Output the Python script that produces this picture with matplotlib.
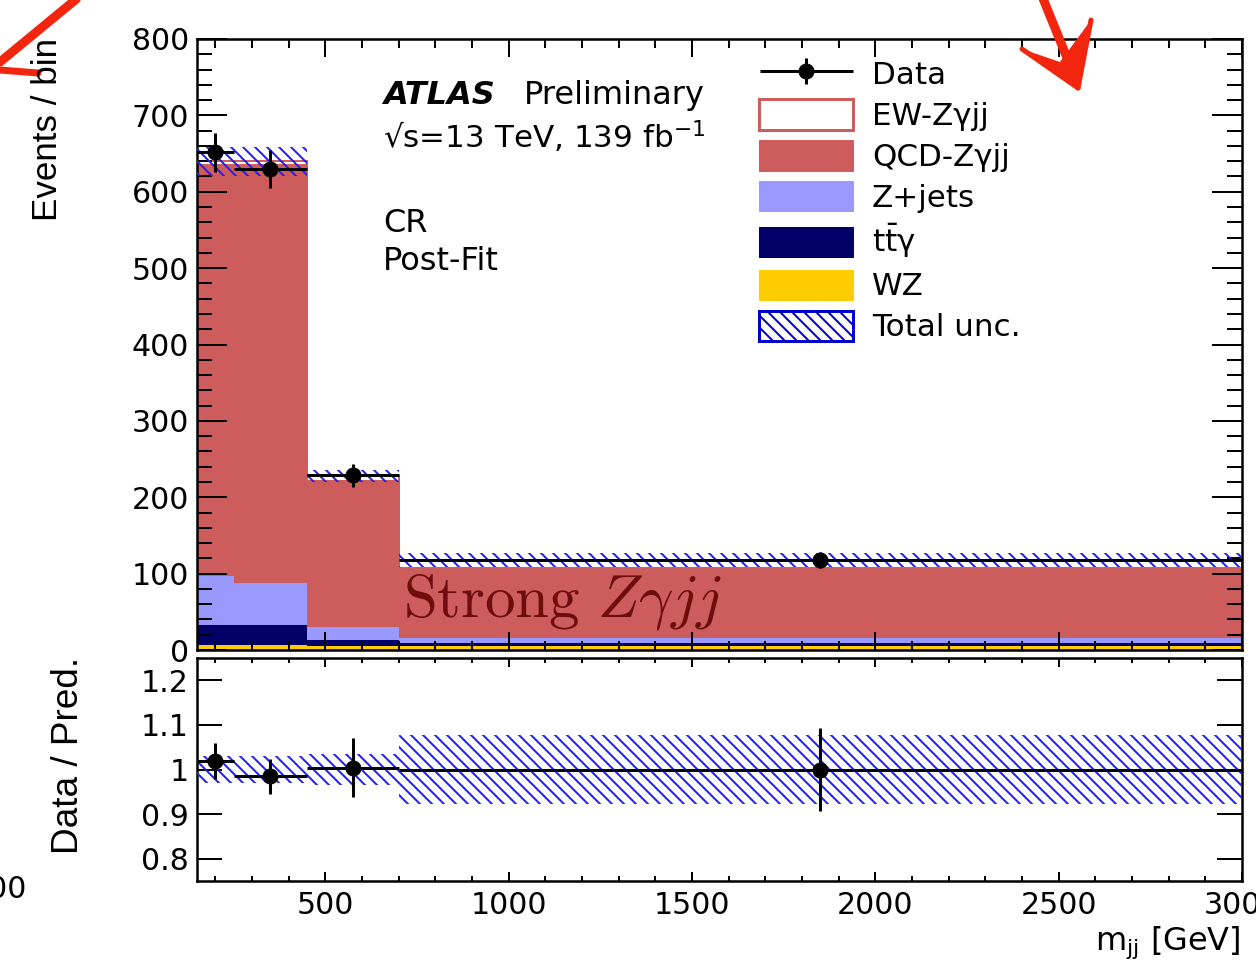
import numpy as np
import matplotlib
matplotlib.use('Agg')
import matplotlib.pyplot as plt
from matplotlib.patches import Patch
from matplotlib.legend_handler import HandlerErrorbar
from matplotlib.container import ErrorbarContainer
from matplotlib.ticker import MultipleLocator, FixedLocator, FuncFormatter

plt.rcParams['font.family'] = ['DejaVu Sans']
plt.rcParams['mathtext.fontset'] = 'dejavusans'
plt.rcParams['hatch.linewidth'] = 2.0

# m_jj bins [GeV] and post-fit yields per bin
edges = [150, 250, 450, 700, 3000]
wz = [7, 6, 5, 5]
ttgamma = [26, 27, 8, 4]
zjets = [64, 55, 17, 7]
qcd = [538, 547, 191, 92]
ew = [5, 5, 7, 10]
tot_unc = [19, 19, 8, 9]
data = [652, 630, 229, 118]

yticks_main = [0, 100, 200, 300, 400, 500, 600, 700, 800]
yticks_ratio = [0.8, 0.9, 1.0, 1.1, 1.2]
xticks = [500, 1000, 1500, 2000, 2500, 3000]

red = '#cd5c5c'
lblue = '#9999ff'
navy = '#000066'
yellow = '#ffcc00'
hblue = '#2020ff'

# work in pixels: dpi 72 so 1pt == 1px
W, H = 1256, 964
fig = plt.figure(figsize=(W / 72, H / 72), dpi=72)

def box(x0, y0, x1, y1):
    return [x0 / W, 1 - y1 / H, (x1 - x0) / W, (y1 - y0) / H]

ax = fig.add_axes(box(197, 39, 1242, 650))
rax = fig.add_axes(box(197, 658, 1242, 881))

edges_a = np.array(edges)
centers = 0.5 * (edges_a[1:] + edges_a[:-1])
halfw = 0.5 * np.diff(edges_a)
cum = np.cumsum([wz, ttgamma, zjets, qcd, ew], axis=0)
total = cum[-1]
unc = np.array(tot_unc)
d = np.array(data)

# stack: EW white box on top of QCD, then lower layers over each other
ax.stairs(total, edges, baseline=cum[3], fill=True, facecolor='white',
          edgecolor=red, linewidth=2)
for i, c in zip([3, 2, 1, 0], [red, lblue, navy, yellow]):
    ax.stairs(cum[i], edges, baseline=0, fill=True, color=c, linewidth=0)

ax.bar(edges_a[:-1], 2 * unc, width=np.diff(edges_a), bottom=total - unc,
       align='edge', fill=False, hatch='\\\\', edgecolor=hblue, linewidth=0, zorder=3)

dat = ax.errorbar(centers, d, xerr=halfw, yerr=np.sqrt(d), fmt='o', color='black',
                  markersize=15, elinewidth=3, capsize=0, zorder=5)

ax.set_xlim(150, 3000)
ax.set_ylim(0, 800)
ax.yaxis.set_major_locator(FixedLocator(yticks_main))
ax.yaxis.set_minor_locator(MultipleLocator(20))
ax.xaxis.set_major_locator(FixedLocator(xticks))
ax.xaxis.set_minor_locator(MultipleLocator(100))
ax.tick_params(which='both', direction='in', top=True, right=True, width=2,
               labelbottom=False, labelsize=30)
ax.tick_params(axis='y', which='major', length=30, pad=8)
ax.tick_params(axis='y', which='minor', length=15)
ax.tick_params(axis='x', which='major', length=18)
ax.tick_params(axis='x', which='minor', length=9)

# ratio panel
ratio = d / total
rerr = np.sqrt(d) / total
runc = unc / total
rax.bar(edges_a[:-1], 2 * runc, width=np.diff(edges_a), bottom=1 - runc,
        align='edge', fill=False, hatch='\\\\', edgecolor=hblue, linewidth=0, zorder=3)
rax.errorbar(centers, ratio, xerr=halfw, yerr=rerr, fmt='o', color='black',
             markersize=15, elinewidth=3, capsize=0, zorder=5)
rax.set_xlim(150, 3000)
rax.set_ylim(0.75, 1.25)
rax.yaxis.set_major_locator(FixedLocator(yticks_ratio))
rax.yaxis.set_major_formatter(FuncFormatter(lambda v, p: '%g' % v))
rax.xaxis.set_major_locator(FixedLocator(xticks))
rax.xaxis.set_minor_locator(MultipleLocator(100))
rax.tick_params(which='both', direction='in', top=True, right=True, width=2, labelsize=30)
rax.tick_params(axis='y', which='major', length=25, pad=8)
rax.tick_params(axis='y', which='minor', length=0)
rax.tick_params(axis='x', which='major', length=9, pad=10)
rax.tick_params(axis='x', which='minor', length=5)

for a in (ax, rax):
    for s in a.spines.values():
        s.set_linewidth(2.5)

handles = [dat,
           Patch(facecolor='white', edgecolor=red, linewidth=3),
           Patch(color=red), Patch(color=lblue), Patch(color=navy), Patch(color=yellow),
           Patch(facecolor='white', edgecolor='#0000cc', hatch='\\\\', linewidth=3)]
labels = ['Data', 'EW-Zγjj', 'QCD-Zγjj', 'Z+jets', r'$\mathrm{t\bar{t}}$γ', 'WZ', 'Total unc.']
ax.legend(handles, labels, loc='upper left', bbox_to_anchor=(0.538, 0.968),
          frameon=False, fontsize=31, borderpad=0, borderaxespad=0,
          handlelength=3.03, handleheight=1.12, labelspacing=0.3, handletextpad=0.61,
          handler_map={ErrorbarContainer: HandlerErrorbar(xerr_size=1.5, yerr_size=0.42)})

# overlay in pixel coordinates for free text and decorations
ov = fig.add_axes([0, 0, 1, 1], zorder=10)
ov.set_xlim(0, W)
ov.set_ylim(H, 0)
ov.axis('off')

ov.text(383, 104, 'ATLAS', fontsize=32, fontweight='bold', fontstyle='italic', va='baseline')
ov.text(524, 104, 'Preliminary', fontsize=32, va='baseline')
ov.text(383, 148, '√s=13 TeV, 139 fb$^{-1}$', fontsize=31, va='baseline')
ov.text(383, 232, 'CR', fontsize=32, va='baseline')
ov.text(383, 270, 'Post-Fit', fontsize=32, va='baseline')

ov.text(403, 617, r'$\mathrm{Strong}\ Z\gamma jj$', fontsize=61, color='#6d0d0d',
        va='baseline', math_fontfamily='cm')

ov.text(48, 38, 'Events / bin', rotation=90, ha='center', va='top', fontsize=35,
        family='Liberation Sans')
ov.text(68, 657, 'Data / Pred.', rotation=90, ha='center', va='top', fontsize=37,
        family='Liberation Sans')
ov.text(1241, 950, r'm$_{\mathrm{jj}}$ [GeV]', ha='right', va='baseline', fontsize=32)
ov.text(26, 889, '000', ha='right', va='center', fontsize=30)

# red hand-drawn arrows
arrow_red = '#f2260f'
ov.plot([80, 0], [-4, 62], color=arrow_red, lw=9, solid_capstyle='round')
ov.plot([0, 38], [70, 73], color=arrow_red, lw=7, solid_capstyle='round')
ov.plot([1042, 1076], [-4, 80], color=arrow_red, lw=9, solid_capstyle='round')
ov.fill([1022, 1080, 1091, 1060], [49, 90, 20, 62], color=arrow_red, lw=0)
ov.plot([1022, 1078], [49, 88], color=arrow_red, lw=5, solid_capstyle='round')
ov.plot([1091, 1078], [20, 88], color=arrow_red, lw=5, solid_capstyle='round')

fig.savefig('out.png', dpi=72)
